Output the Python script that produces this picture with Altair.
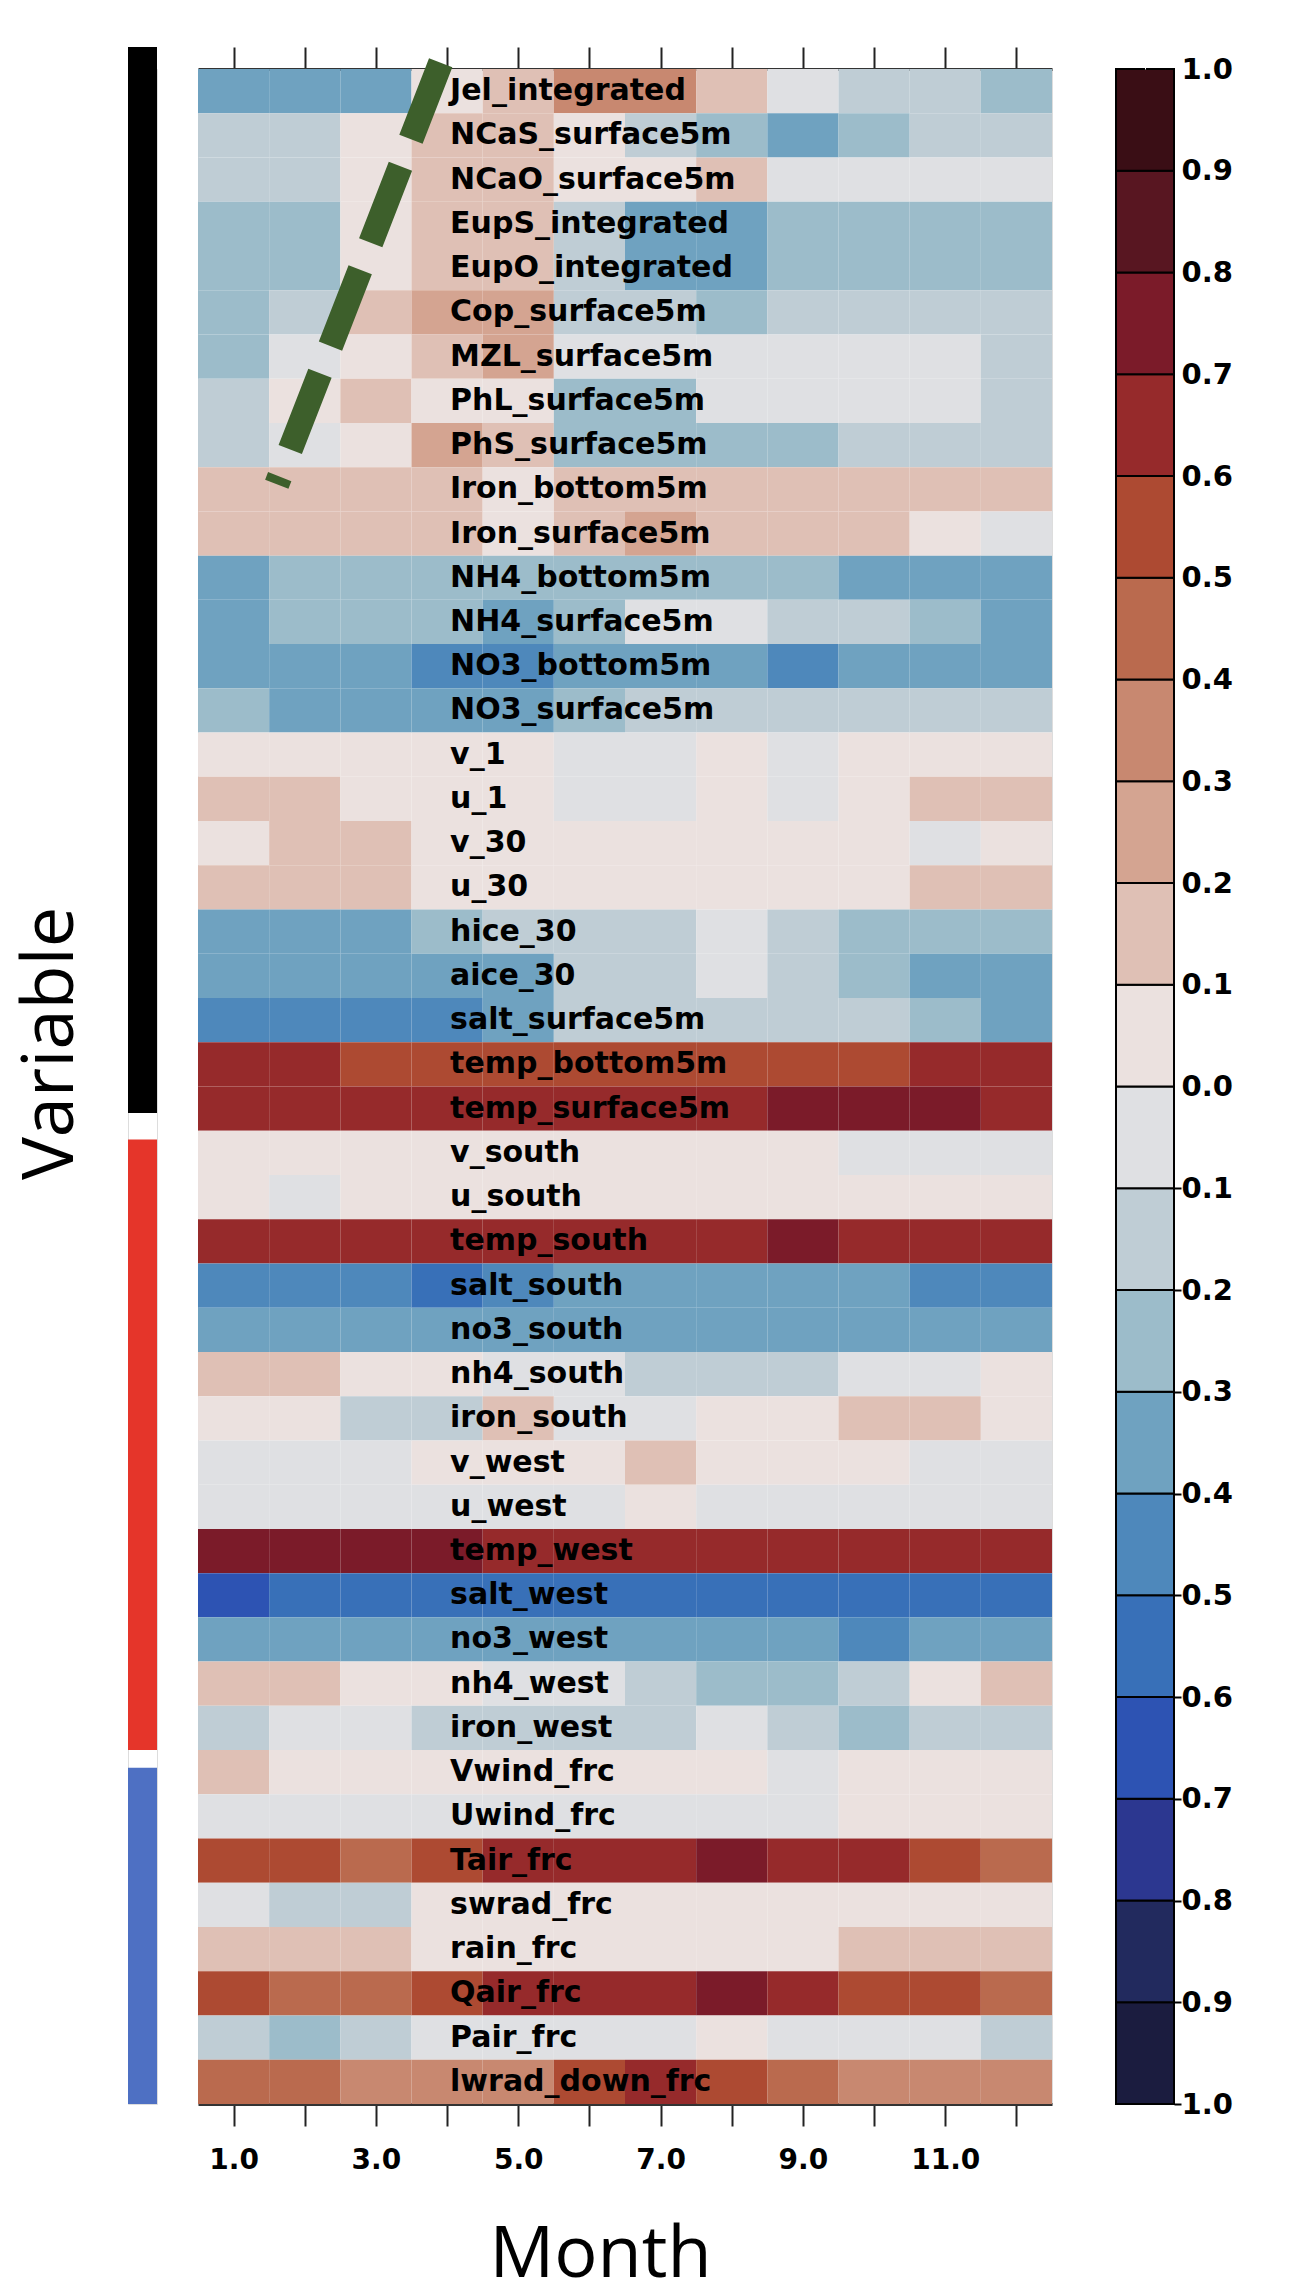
import altair as alt
import pandas as pd

# ---------------- data ----------------
months = [1, 2, 3, 4, 5, 6, 7, 8, 9, 10, 11, 12]

variables = [
    "Jel_integrated", "NCaS_surface5m", "NCaO_surface5m", "EupS_integrated",
    "EupO_integrated", "Cop_surface5m", "MZL_surface5m", "PhL_surface5m",
    "PhS_surface5m", "Iron_bottom5m", "Iron_surface5m", "NH4_bottom5m",
    "NH4_surface5m", "NO3_bottom5m", "NO3_surface5m", "v_1", "u_1", "v_30",
    "u_30", "hice_30", "aice_30", "salt_surface5m", "temp_bottom5m",
    "temp_surface5m", "v_south", "u_south", "temp_south", "salt_south",
    "no3_south", "nh4_south", "iron_south", "v_west", "u_west", "temp_west",
    "salt_west", "no3_west", "nh4_west", "iron_west", "Vwind_frc", "Uwind_frc",
    "Tair_frc", "swrad_frc", "rain_frc", "Qair_frc", "Pair_frc", "lwrad_down_frc",
]

# correlation per month (Jan..Dec) for each variable
corr_domain = [
    [-0.35, -0.35, -0.35, 0.05, 0.15, 0.35, 0.35, 0.15, -0.05, -0.15, -0.15, -0.25],
    [-0.15, -0.15, 0.05, 0.15, 0.15, 0.05, -0.15, -0.25, -0.35, -0.25, -0.15, -0.15],
    [-0.15, -0.15, 0.05, 0.15, 0.15, 0.05, 0.05, 0.15, -0.05, -0.05, -0.05, -0.05],
    [-0.25, -0.25, 0.05, 0.15, 0.15, -0.15, -0.35, -0.35, -0.25, -0.25, -0.25, -0.25],
    [-0.25, -0.25, 0.05, 0.15, 0.15, -0.15, -0.35, -0.35, -0.25, -0.25, -0.25, -0.25],
    [-0.25, -0.15, 0.15, 0.25, 0.25, -0.15, -0.15, -0.25, -0.15, -0.15, -0.15, -0.15],
    [-0.25, -0.05, 0.05, 0.15, 0.25, -0.05, -0.05, -0.05, -0.05, -0.05, -0.05, -0.15],
    [-0.15, 0.05, 0.15, 0.05, 0.05, -0.25, -0.25, -0.05, -0.05, -0.05, -0.05, -0.15],
    [-0.15, -0.05, 0.05, 0.25, 0.15, -0.25, -0.25, -0.25, -0.25, -0.15, -0.15, -0.15],
    [0.15, 0.15, 0.15, 0.15, 0.05, 0.15, 0.15, 0.15, 0.15, 0.15, 0.15, 0.15],
    [0.15, 0.15, 0.15, 0.15, 0.05, 0.15, 0.25, 0.15, 0.15, 0.15, 0.05, -0.05],
    [-0.35, -0.25, -0.25, -0.25, -0.25, -0.25, -0.25, -0.25, -0.25, -0.35, -0.35, -0.35],
    [-0.35, -0.25, -0.25, -0.25, -0.35, -0.25, -0.05, -0.05, -0.15, -0.15, -0.25, -0.35],
    [-0.35, -0.35, -0.35, -0.45, -0.45, -0.35, -0.35, -0.35, -0.45, -0.35, -0.35, -0.35],
    [-0.25, -0.35, -0.35, -0.35, -0.35, -0.25, -0.15, -0.15, -0.15, -0.15, -0.15, -0.15],
    [0.05, 0.05, 0.05, 0.05, 0.05, -0.05, -0.05, 0.05, -0.05, 0.05, 0.05, 0.05],
    [0.15, 0.15, 0.05, 0.05, 0.05, -0.05, -0.05, 0.05, -0.05, 0.05, 0.15, 0.15],
    [0.05, 0.15, 0.15, 0.05, 0.05, 0.05, 0.05, 0.05, 0.05, 0.05, -0.05, 0.05],
    [0.15, 0.15, 0.15, 0.05, 0.05, 0.05, 0.05, 0.05, 0.05, 0.05, 0.15, 0.15],
    [-0.35, -0.35, -0.35, -0.25, -0.15, -0.15, -0.15, -0.05, -0.15, -0.25, -0.25, -0.25],
    [-0.35, -0.35, -0.35, -0.35, -0.35, -0.15, -0.15, -0.05, -0.15, -0.25, -0.35, -0.35],
    [-0.45, -0.45, -0.45, -0.45, -0.35, -0.15, -0.15, -0.15, -0.15, -0.15, -0.25, -0.35],
    [0.65, 0.65, 0.55, 0.55, 0.55, 0.55, 0.55, 0.55, 0.55, 0.55, 0.65, 0.65],
    [0.65, 0.65, 0.65, 0.65, 0.65, 0.65, 0.65, 0.65, 0.75, 0.75, 0.75, 0.65],
]
corr_boundary = [
    [0.05, 0.05, 0.05, 0.05, 0.05, 0.05, 0.05, 0.05, 0.05, -0.05, -0.05, -0.05],
    [0.05, -0.05, 0.05, 0.05, 0.05, 0.05, 0.05, 0.05, 0.05, 0.05, 0.05, 0.05],
    [0.65, 0.65, 0.65, 0.65, 0.65, 0.65, 0.65, 0.65, 0.75, 0.65, 0.65, 0.65],
    [-0.45, -0.45, -0.45, -0.55, -0.45, -0.35, -0.35, -0.35, -0.35, -0.35, -0.45, -0.45],
    [-0.35, -0.35, -0.35, -0.35, -0.35, -0.35, -0.35, -0.35, -0.35, -0.35, -0.35, -0.35],
    [0.15, 0.15, 0.05, 0.05, -0.05, -0.05, -0.15, -0.15, -0.15, -0.05, -0.05, 0.05],
    [0.05, 0.05, -0.15, -0.15, 0.15, -0.05, -0.05, 0.05, 0.05, 0.15, 0.15, 0.05],
    [-0.05, -0.05, -0.05, 0.05, 0.05, 0.05, 0.15, 0.05, 0.05, 0.05, -0.05, -0.05],
    [-0.05, -0.05, -0.05, -0.05, -0.05, -0.05, 0.05, -0.05, -0.05, -0.05, -0.05, -0.05],
    [0.75, 0.75, 0.75, 0.75, 0.65, 0.65, 0.65, 0.65, 0.65, 0.65, 0.65, 0.65],
    [-0.65, -0.55, -0.55, -0.55, -0.55, -0.55, -0.55, -0.55, -0.55, -0.55, -0.55, -0.55],
    [-0.35, -0.35, -0.35, -0.35, -0.35, -0.35, -0.35, -0.35, -0.35, -0.45, -0.35, -0.35],
    [0.15, 0.15, 0.05, 0.05, -0.05, -0.05, -0.15, -0.25, -0.25, -0.15, 0.05, 0.15],
    [-0.15, -0.05, -0.05, -0.15, -0.15, -0.15, -0.15, -0.05, -0.15, -0.25, -0.15, -0.15],
]
corr_forcing = [
    [0.15, 0.05, 0.05, 0.05, 0.05, 0.05, 0.05, 0.05, -0.05, 0.05, 0.05, 0.05],
    [-0.05, -0.05, -0.05, -0.05, -0.05, -0.05, -0.05, -0.05, -0.05, 0.05, 0.05, 0.05],
    [0.55, 0.55, 0.45, 0.55, 0.65, 0.65, 0.65, 0.75, 0.65, 0.65, 0.55, 0.45],
    [-0.05, -0.15, -0.15, 0.05, 0.05, 0.05, 0.05, 0.05, 0.05, 0.05, 0.05, 0.05],
    [0.15, 0.15, 0.15, 0.05, 0.05, 0.05, 0.05, 0.05, 0.05, 0.15, 0.15, 0.15],
    [0.55, 0.45, 0.45, 0.55, 0.65, 0.65, 0.65, 0.75, 0.65, 0.55, 0.55, 0.45],
    [-0.15, -0.25, -0.15, -0.05, -0.05, -0.05, -0.05, 0.05, -0.05, -0.05, -0.05, -0.15],
    [0.45, 0.45, 0.35, 0.35, 0.35, 0.55, 0.65, 0.55, 0.45, 0.35, 0.35, 0.35],
]

# variable groups (bars at the left), in row units (top of row 0 = 0)
group_names = ["ocean state", "open boundary", "atmospheric forcing"]
group_start = [-0.5, 24.2, 38.4]
group_end = [23.6, 38.0, 46.0]
group_colors = ["#000000", "#E5352A", "#4E70C3"]

# dashed annotation line (month, row)
guide_month = [3.91, 1.607]
guide_row = [-0.14, 9.385]

# colour bar
thresholds = [-0.9, -0.8, -0.7, -0.6, -0.5, -0.4, -0.3, -0.2, -0.1, 0.0,
              0.1, 0.2, 0.3, 0.4, 0.5, 0.6, 0.7, 0.8, 0.9]
palette = ["#1B1C3F", "#222A5E", "#2C3790", "#2D53B3", "#3870B8", "#4E88BB",
           "#6FA2C0", "#9CBCCA", "#BFCDD5", "#DFE0E3", "#EBE1DF", "#DFC0B5",
           "#D4A491", "#C88870", "#BA6A4E", "#AD4A32", "#962A2B", "#7B1B29",
           "#581621", "#3A0E15"]
cb_low = [-1.0, -0.9, -0.8, -0.7, -0.6, -0.5, -0.4, -0.3, -0.2, -0.1,
          0.0, 0.1, 0.2, 0.3, 0.4, 0.5, 0.6, 0.7, 0.8, 0.9]
cb_high = [-0.9, -0.8, -0.7, -0.6, -0.5, -0.4, -0.3, -0.2, -0.1, 0.0,
           0.1, 0.2, 0.3, 0.4, 0.5, 0.6, 0.7, 0.8, 0.9, 1.0]
cb_ticks = [-1.0, -0.9, -0.8, -0.7, -0.6, -0.5, -0.4, -0.3, -0.2, -0.1, 0.0,
            0.1, 0.2, 0.3, 0.4, 0.5, 0.6, 0.7, 0.8, 0.9, 1.0]

# ---------------- tables ----------------
corr = corr_domain + corr_boundary + corr_forcing
records = []
for r, (name, vals) in enumerate(zip(variables, corr)):
    for m, v in zip(months, vals):
        records.append({"variable": name, "row": r, "month": m, "r": v})
heat = pd.DataFrame(records)
labels_df = pd.DataFrame({"variable": variables, "row": list(range(len(variables)))})
groups_df = pd.DataFrame({"group": group_names, "start": group_start, "end": group_end})
guide_df = pd.DataFrame({"month": guide_month, "row": guide_row, "seq": [0, 1]})
cbar_df = pd.DataFrame({"lo": cb_low, "hi": cb_high, "bar": ["cb"] * len(cb_low)})

# ---------------- chart ----------------
W, H = 854, 2035
NROW = len(variables)
BOLD = "DejaVu Sans"
TITLE_FONT = "Open Sans"

xscale = alt.Scale(domain=[0.5, 12.5], nice=False, zero=False)
yscale = alt.Scale(domain=[0, NROW], reverse=True, nice=False, zero=False)
cscale = alt.Scale(type="threshold", domain=thresholds, range=palette)

rects = alt.Chart(heat).transform_calculate(
    m0="datum.month - 0.5", m1="datum.month + 0.5",
    r0="datum.row", r1="datum.row + 1",
).mark_rect().encode(
    x=alt.X("m0:Q", scale=xscale, axis=alt.Axis(
        orient="bottom", values=months,
        labelExpr="datum.value % 2 == 1 ? format(datum.value, '.1f') : ''",
        tickSize=22, tickWidth=2, tickColor="#222222",
        domainColor="#333333", domainWidth=3, grid=False,
        labelFont=BOLD, labelFontWeight="bold", labelFontSize=28,
        labelColor="black", labelPadding=20,
        title="Month", titleFont=TITLE_FONT, titleFontSize=72,
        titleFontWeight="normal", titleColor="black",
        titleX=402, titleY=172, titleBaseline="alphabetic", titleAlign="center",
    )),
    x2="m1:Q",
    y=alt.Y("r0:Q", scale=yscale, axis=None),
    y2="r1:Q",
    color=alt.Color("r:Q", scale=cscale, legend=None),
)

names = alt.Chart(labels_df).transform_calculate(
    lx="4", ly="datum.row + 0.5"
).mark_text(
    align="left", baseline="middle", dx=3, font=BOLD, fontWeight="bold",
    fontSize=30, color="black",
).encode(
    x=alt.X("lx:Q", scale=xscale, axis=alt.Axis(
        orient="top", values=months, labels=False, tickSize=22, tickWidth=2,
        tickColor="#222222", domainColor="#333333", domainWidth=3,
        grid=False, title=None,
    )),
    y=alt.Y("ly:Q", scale=yscale, axis=None),
    text="variable:N",
)

guide = alt.Chart(guide_df).mark_line(
    color="#3D5F2B", strokeWidth=25, strokeDash=[82, 29], strokeCap="butt",
).encode(
    x=alt.X("month:Q", scale=xscale, axis=None),
    y=alt.Y("row:Q", scale=yscale, axis=None),
    order="seq:Q",
)

heatmap = alt.layer(rects, names, guide).resolve_axis(x="independent").properties(
    width=W, height=H
)

bars = alt.Chart(groups_df).mark_rect().encode(
    y=alt.Y("start:Q", scale=yscale, axis=alt.Axis(
        labels=False, ticks=False, domain=False, grid=False,
        title="Variable", titleFont=TITLE_FONT, titleFontSize=72,
        titleFontWeight="normal", titleColor="black", titleAngle=270,
        titleX=-56, titleY=974, titleBaseline="alphabetic", titleAlign="center",
    )),
    y2="end:Q",
    color=alt.Color("group:N", scale=alt.Scale(domain=group_names, range=group_colors),
                    legend=None),
).properties(width=29, height=H)

cbar = alt.Chart(cbar_df).transform_calculate(
    mid="(datum.lo + datum.hi) / 2"
).mark_rect(stroke="black", strokeWidth=2).encode(
    x=alt.X("bar:N", scale=alt.Scale(paddingInner=0, paddingOuter=0),
            axis=alt.Axis(orient="top", labels=False, domain=False, ticks=True,
                          tickSize=22, tickColor="white", title=None, grid=False)),
    y=alt.Y("lo:Q", scale=alt.Scale(domain=[-1, 1], nice=False, zero=False),
            axis=alt.Axis(
                orient="right", values=cb_ticks,
                labelExpr="format(abs(datum.value), '.1f')",
                tickSize=7, tickWidth=2,
                tickColor={"condition": {"test": "datum.value < -0.05", "value": "black"},
                           "value": "transparent"},
                domain=False, grid=False, labelPadding=0,
                labelFont=BOLD, labelFontWeight="bold", labelFontSize=29,
                labelColor="black", labelOverlap=False, title=None,
            )),
    y2="hi:Q",
    color=alt.Color("mid:Q", scale=cscale, legend=None),
).properties(width=58, height=H)

main = alt.hconcat(bars, heatmap, spacing=41, bounds="flush")
chart = alt.hconcat(main, cbar, spacing=61).properties(
    padding={"left": 5, "top": 4, "right": 0, "bottom": 0}
).configure_view(stroke="transparent", strokeWidth=0).configure(background="white")

chart.save("out.html", embed_options={"renderer": "svg", "actions": False})
